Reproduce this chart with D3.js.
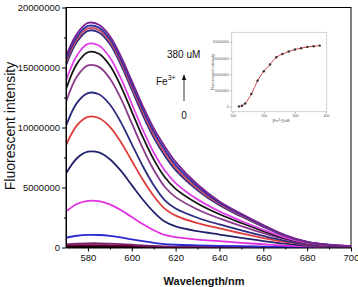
<!DOCTYPE html>
<html><head><meta charset="utf-8">
<script src="https://cdn.jsdelivr.net/npm/d3@7"></script>
<style>body{margin:0;background:#fff}svg{display:block;font-family:"Liberation Sans",Arial,sans-serif}</style>
</head><body><svg id="c" width="358" height="287"></svg>
<script>
// wavelengths (nm)
const wavelengths = [570,575,580,585,590,595,600,605,610,615,620,630,640,650,660,670,680,690,700];
// fluorescence spectra (millions), low -> high Fe3+ concentration
const s0  = [0.06,0.07,0.08,0.08,0.07,0.06,0.05,0.04,0.03,0.02,0.02,0.01,0.01,0.01,0,0,0,0,0];
const s1  = [0.16,0.19,0.20,0.20,0.18,0.16,0.13,0.10,0.07,0.05,0.04,0.03,0.03,0.02,0.01,0.01,0,0,0];
const s2  = [0.28,0.33,0.35,0.35,0.32,0.28,0.23,0.18,0.13,0.10,0.08,0.06,0.05,0.04,0.02,0.01,0.01,0,0];
const s3  = [0.81,0.98,1.05,1.04,0.97,0.84,0.68,0.53,0.39,0.28,0.23,0.18,0.14,0.11,0.07,0.04,0.02,0.01,0.01];
const s4  = [3.00,3.63,3.89,3.86,3.59,3.12,2.54,1.95,1.44,1.05,0.86,0.66,0.53,0.39,0.27,0.16,0.08,0.04,0.02];
const s5  = [6.16,7.44,7.98,7.92,7.36,6.40,5.20,4.00,2.96,2.16,1.76,1.36,1.08,0.80,0.54,0.32,0.16,0.08,0.04];
const s6  = [8.52,10.17,10.88,10.79,10.06,8.80,7.23,5.66,4.29,3.24,2.66,2.03,1.59,1.17,0.79,0.46,0.23,0.11,0.06];
const s7  = [10.14,12.05,12.87,12.77,11.92,10.45,8.62,6.79,5.19,3.95,3.25,2.48,1.92,1.42,0.96,0.55,0.27,0.13,0.07];
const s8  = [12.13,14.24,15.17,15.05,14.09,12.43,10.36,8.29,6.48,5.06,4.20,3.17,2.42,1.79,1.20,0.69,0.33,0.16,0.08];
const s9  = [13.20,15.32,16.27,16.14,15.16,13.45,11.33,9.21,7.34,5.87,4.89,3.67,2.77,2.04,1.37,0.77,0.37,0.18,0.09];
const s10 = [13.91,16.01,16.97,16.83,15.84,14.11,11.97,9.83,7.92,6.43,5.37,4.01,3.01,2.21,1.48,0.83,0.39,0.19,0.10];
const s11 = [15.17,17.14,18.06,17.92,16.96,15.25,13.15,11.05,9.16,7.66,6.44,4.77,3.52,2.58,1.72,0.96,0.44,0.21,0.11];
const s12 = [15.41,17.35,18.26,18.12,17.17,15.46,13.38,11.29,9.41,7.91,6.66,4.92,3.62,2.65,1.77,0.98,0.45,0.22,0.11];
const s13 = [15.65,17.56,18.46,18.32,17.37,15.68,13.61,11.53,9.66,8.16,6.88,5.08,3.73,2.73,1.82,1.00,0.46,0.22,0.11];
const s14 = [15.94,17.81,18.71,18.56,17.63,15.94,13.88,11.81,9.94,8.44,7.13,5.25,3.84,2.81,1.88,1.03,0.47,0.23,0.11];
const spectra = [s0,s1,s2,s3,s4,s5,s6,s7,s8,s9,s10,s11,s12,s13,s14];
const colors = ["#1a0010","#6a0030","#7a2070","#2a2ad0","#e030e0","#23236e","#e03c3c","#2b2b80","#8a3a8a","#151515","#e040e8","#2c2c84","#d04a5a","#3030a8","#7a2490"];
const xTicks = [580,600,620,640,660,680,700];
const yTicks = [0,5000000,10000000,15000000,20000000];
// inset: titration curve
const insetConc = [120,130,140,160,180,200,220,240,260,280,300,320,340,360,380];
const insetVals = [0.1,0.3,1.0,3.9,8.0,10.9,13.0,15.2,16.2,17.0,17.6,18.0,18.4,18.6,18.8];
const insetXTicks = [100,200,300,400];
const insetYTicks = [0,5000000,10000000,15000000,20000000];

const svg = d3.select("#c");
const x = d3.scaleLinear().domain([570,700]).range([66,351]);
const y = d3.scaleLinear().domain([0,20000000]).range([247.5,7.5]);

// frame
svg.append("rect").attr("x",66).attr("y",7.5).attr("width",285).attr("height",240)
  .attr("fill","none").attr("stroke","#000").attr("stroke-width",1);

// curves
const line = d3.line().x((d,i)=>x(wavelengths[i])).y(d=>y(d*1e6)).curve(d3.curveCatmullRom.alpha(0.5));
const clip = svg.append("clipPath").attr("id","cp").append("rect").attr("x",66).attr("y",0).attr("width",285).attr("height",248);
svg.append("g").attr("clip-path","url(#cp)").selectAll("path").data(spectra).join("path")
  .attr("d",line).attr("fill","none").attr("stroke",(d,i)=>colors[i]).attr("stroke-width",1.8);

// axes
const fmt = d3.format("d");
const xa = svg.append("g").attr("transform","translate(0,247.5)")
  .call(d3.axisBottom(x).tickValues(xTicks).tickSize(4).tickSizeOuter(0).tickPadding(3).tickFormat(fmt));
svg.append("g").attr("transform","translate(0,247.5)")
  .call(d3.axisBottom(x).tickValues([590,610,630,650,670,690]).tickSize(2).tickSizeOuter(0).tickFormat(""))
  .select(".domain").remove();
const ya = svg.append("g").attr("transform","translate(66,0)")
  .call(d3.axisLeft(y).tickValues(yTicks).tickSize(4).tickSizeOuter(0).tickPadding(2).tickFormat(fmt));
svg.append("g").attr("transform","translate(66,0)")
  .call(d3.axisLeft(y).tickValues([2500000,7500000,12500000,17500000]).tickSize(2).tickSizeOuter(0).tickFormat(""))
  .select(".domain").remove();
svg.selectAll(".tick text").attr("font-size","9.5px").attr("fill","#111")
  .attr("font-family","'Liberation Sans',Arial,sans-serif");

// axis titles
svg.append("text").attr("transform","translate(14.5,126) rotate(-90)").attr("text-anchor","middle")
  .attr("font-size","14px").attr("fill","#111").text("Fluorescent intensity");
svg.append("text").attr("x",204).attr("y",285).attr("text-anchor","middle")
  .attr("font-size","11px").attr("font-weight","bold").attr("fill","#111").text("Wavelength/nm");

// annotation
svg.append("text").attr("x",167).attr("y",58).attr("font-size","10px").attr("fill","#111").text("380 uM");
const fe = svg.append("text").attr("x",156).attr("y",85).attr("font-size","10px").attr("fill","#111");
fe.append("tspan").text("Fe");
fe.append("tspan").attr("dy",-5).attr("font-size","7px").text("3+");
svg.append("text").attr("x",184).attr("y",119).attr("text-anchor","middle").attr("font-size","10px").attr("fill","#111").text("0");
svg.append("line").attr("x1",184).attr("x2",184).attr("y1",101).attr("y2",79).attr("stroke","#333").attr("stroke-width",1);
svg.append("path").attr("d","M184,74 L181.8,80 L186.2,80 Z").attr("fill","#111");

// inset
const ix = d3.scaleLinear().domain([100,400]).range([232.7,326]);
const iy = d3.scaleLinear().domain([0,20000000]).range([106.7,41.7]);
const ig = svg.append("g");
ig.append("rect").attr("x",231.7).attr("y",32.3).attr("width",95).attr("height",79.4)
  .attr("fill","#fff").attr("stroke","#c8c8c8").attr("stroke-width",0.8);
const ixa = ig.append("g").attr("transform","translate(0,111.7)")
  .call(d3.axisBottom(ix).tickValues(insetXTicks).tickSize(1.5).tickSizeOuter(0).tickPadding(1.5).tickFormat(fmt));
const iya = ig.append("g").attr("transform","translate(231.7,0)")
  .call(d3.axisLeft(iy).tickValues(insetYTicks).tickSize(1.5).tickSizeOuter(0).tickPadding(1.5).tickFormat(fmt));
ig.selectAll(".domain").remove();
ig.selectAll(".tick line").attr("stroke","#777").attr("stroke-width",0.6);
ig.selectAll(".tick text").attr("font-size","3.6px").attr("fill","#555");
ig.append("text").attr("transform","translate(214,72) rotate(-90)").attr("text-anchor","middle")
  .attr("font-size","4px").attr("fill","#555").text("Fluorescent intensity");
const il = ig.append("text").attr("x",281).attr("y",122).attr("text-anchor","middle").attr("font-size","4px").attr("fill","#555");
il.append("tspan").text("[Fe");
il.append("tspan").attr("dy",-1.5).attr("font-size","3px").text("3+");
il.append("tspan").attr("dy",1.5).text("]/uM");
const iline = d3.line().x((d,i)=>ix(insetConc[i])).y(d=>iy(d*1e6)).curve(d3.curveCatmullRom.alpha(0.5));
ig.append("path").attr("d",iline(insetVals)).attr("fill","none").attr("stroke","#d04848").attr("stroke-width",1);
ig.selectAll("circle").data(insetVals).join("circle")
  .attr("cx",(d,i)=>ix(insetConc[i])).attr("cy",d=>iy(d*1e6)).attr("r",1.2).attr("fill","#333");
</script></body></html>
